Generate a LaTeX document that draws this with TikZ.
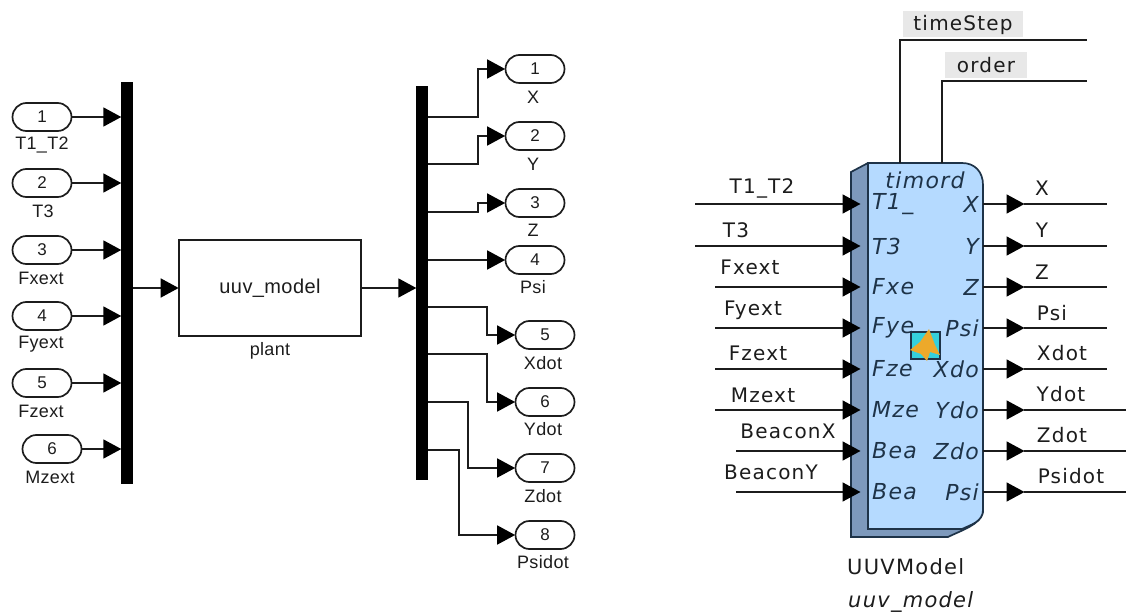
\documentclass[tikz,border=0pt]{standalone}
\usepackage{fontspec}
\setmainfont{Liberation Sans}
\newfontfamily\lib[LetterSpace=2]{Liberation Sans}
\newfontfamily\djv[LetterSpace=6]{DejaVu Sans}
\usetikzlibrary{arrows.meta,shapes.misc}
\definecolor{ink}{HTML}{1C1C1C}
\definecolor{blockfill}{HTML}{B5DAFF}
\definecolor{shadowfill}{HTML}{7D99BC}
\definecolor{blockline}{HTML}{1E3348}
\definecolor{tag}{HTML}{E8E8E8}
\definecolor{icona}{HTML}{35D0DC}
\definecolor{iconb}{HTML}{EDA92A}
\tikzset{
  wire/.style={draw=ink,line width=1.7pt},
  tipwire/.style={wire,-{Triangle[length=18pt,width=19pt,color=black]},shorten >=-0.5pt},
  port/.style={draw=ink,line width=1.7pt,rounded rectangle,minimum width=59pt,minimum height=28pt,inner sep=0pt,font=\fontsize{17}{17}\selectfont,text=ink},
  bus/.style={fill=black,draw=none,inner sep=0pt,minimum width=12pt},
  small/.style={inner sep=0pt,font=\fontsize{18}{18}\lib\selectfont,text=ink},
  big/.style={inner sep=0pt,font=\fontsize{20}{20}\djv\selectfont,text=ink},
  ital/.style={inner sep=0pt,font=\fontsize{22}{22}\djv\itshape\selectfont,text=blockline},
  tagbox/.style={fill=tag,inner sep=0pt},
}
\begin{document}
\begin{tikzpicture}[x=1pt,y=-1pt]
\useasboundingbox (0,0) rectangle (1126,612);
% --- left diagram
\node[bus,minimum height=402pt] (busA) at (127,283) {};
\node[bus,minimum height=394pt] (busB) at (422,283) {};
\node[draw=ink,line width=1.7pt,minimum width=182pt,minimum height=96pt,inner sep=0pt,font=\fontsize{20}{20}\lib\selectfont,text=ink] (plant) at (270,288) {uuv\_model};
\node[small] (plantlbl) at (270,351) {plant};
\draw[tipwire] (busA.east |- plant.west) -- (plant.west);
\draw[tipwire] (plant.east) -- (plant.east -| busB.west);
\foreach \n/\x/\y/\lx/\t in {1/42/117/42/T1\_T2,2/42/183/43/T3,3/42/250/41/Fxext,4/42/316/41/Fyext,5/42/383/41/Fzext,6/52/449/50/Mzext}{
  \node[port] (in\n) at (\x,\y) {\n};
  \node[small] (inl\n) at (\lx,\y+28) {\t};
  \draw[tipwire] (in\n.east) -- (in\n.east -| busA.west);
}
\foreach \n/\x/\y/\t/\ly in {1/535/69/X/97,2/535/136/Y/164,3/535/203/Z/230,4/535/260/Psi/287,5/545/335/Xdot/363,6/545/402/Ydot/429,7/545/468/Zdot/496,8/545/535/Psidot/562}{
  \node[port] (out\n) at (\x,\y) {\n};
  \node[small] (outl\n) at (\x-2,\ly) {\t};
}
\foreach \n/\y/\k in {1/117/478,2/164/478,3/212/478,5/307/487,6/354/487,7/402/468,8/450/459}{
  \coordinate (start\n) at (428,\y);
  \coordinate (bend\n) at (\k,\y);
  \draw[tipwire] (start\n) -- (bend\n) -- (bend\n |- out\n.west) -- (out\n.west);
}
\coordinate (start4) at (428,260);
\draw[tipwire] (start4) -- (out4.west);
% --- right block
\fill[shadowfill,draw=blockline,line width=1.7pt] (851,172) -- (868,163) -- (960,163) -- (983,190) -- (983,512) .. controls (980,525) and (962,530) .. (948,537) -- (851,537) -- cycle;
\fill[blockfill,draw=blockline,line width=1.7pt] (868,163) -- (962,163) .. controls (975,163) and (983,172) .. (983,185) -- (983,510) .. controls (983,522) and (970,525) .. (962,529) -- (868,529) -- cycle;
\node[minimum width=115pt,minimum height=366pt,inner sep=0pt] (blk) at (925.5,346) {};
% ports
\node[ital] (timord) at (925,180) {timord};
\foreach \n/\y/\l/\r in {1/204/T1\_/X,2/246/T3/Y,3/287/Fxe/Z,4/328/Fye/Psi,5/369/Fze/Xdo,6/410/Mze/Ydo,7/451/Bea/Zdo,8/492/Bea/Psi}{
  \node[ital,anchor=west] (pl\n) at (872,\y) {\l};
  \node[ital,anchor=east] (pr\n) at (979,\y) {\r};
}
% icon
\fill[icona,draw=blockline,line width=1.2pt] (911,332) rectangle (940,359);
\fill[iconb] (929,329) -- (935,345) -- (940,355) -- (930,352) -- (927,361) -- (921,354) -- (910,350) -- (920,342) -- cycle;
\foreach \n/\y/\sx in {1/204/695,2/246/695,3/287/715,4/328/715,5/369/715,6/410/715,7/451/736,8/492/736}{
  \coordinate (src\n) at (\sx,\y);
  \coordinate (tip\n) at (860,\y);
  \draw[tipwire] (src\n) -- (tip\n);
}
\foreach \n/\y/\ex in {1/204/1107,2/246/1107,3/287/1107,4/328/1107,5/369/1107,6/410/1126,7/451/1126,8/492/1126}{
  \coordinate (ob\n) at (blk.east |- 0,\y);
  \coordinate (oh\n) at (1024,\y);
  \coordinate (oe\n) at (\ex,\y);
  \draw[tipwire] (ob\n) -- (oh\n);
  \draw[wire] (oh\n) -- (oe\n);
}
\foreach \n/\x/\y/\t in {a/762/188/T1\_T2,b/736/230/T3,c/750/267/Fxext,d/753/310/Fyext,e/758/353/Fzext,f/763/395/Mzext,g/788/431/BeaconX,h/771/472/BeaconY,i/1042/188/X,j/1042/230/Y,k/1042/272/Z,l/1052/313/Psi,m/1062/353/Xdot,n/1061/394/Ydot,o/1062/435/Zdot,p/1071/476/Psidot}{
  \node[big] (sig\n) at (\x,\y) {\t};
}
% parameters
\node[tagbox,minimum width=120pt,minimum height=26pt] (tsbox) at (963,24) {};
\node[big] (ts) at (963,25) {timeStep};
\node[tagbox,minimum width=82pt,minimum height=26pt] (obox) at (986,65) {};
\node[big] (ord) at (986,65) {order};
\coordinate (tsE) at (1087,40);
\coordinate (oE) at (1087,81);
\draw[wire] (blk.north -| 900,0) -- (900,40) -- (tsE);
\draw[wire] (blk.north -| 942,0) -- (942,81) -- (oE);
\node[big,anchor=west,font=\fontsize{21}{21}\djv\selectfont] (nm) at (847,567) {UUVModel};
\node[big,anchor=west,font=\fontsize{21}{21}\djv\itshape\selectfont] (sub) at (848,602) {uuv\_model};
\end{tikzpicture}
\end{document}
